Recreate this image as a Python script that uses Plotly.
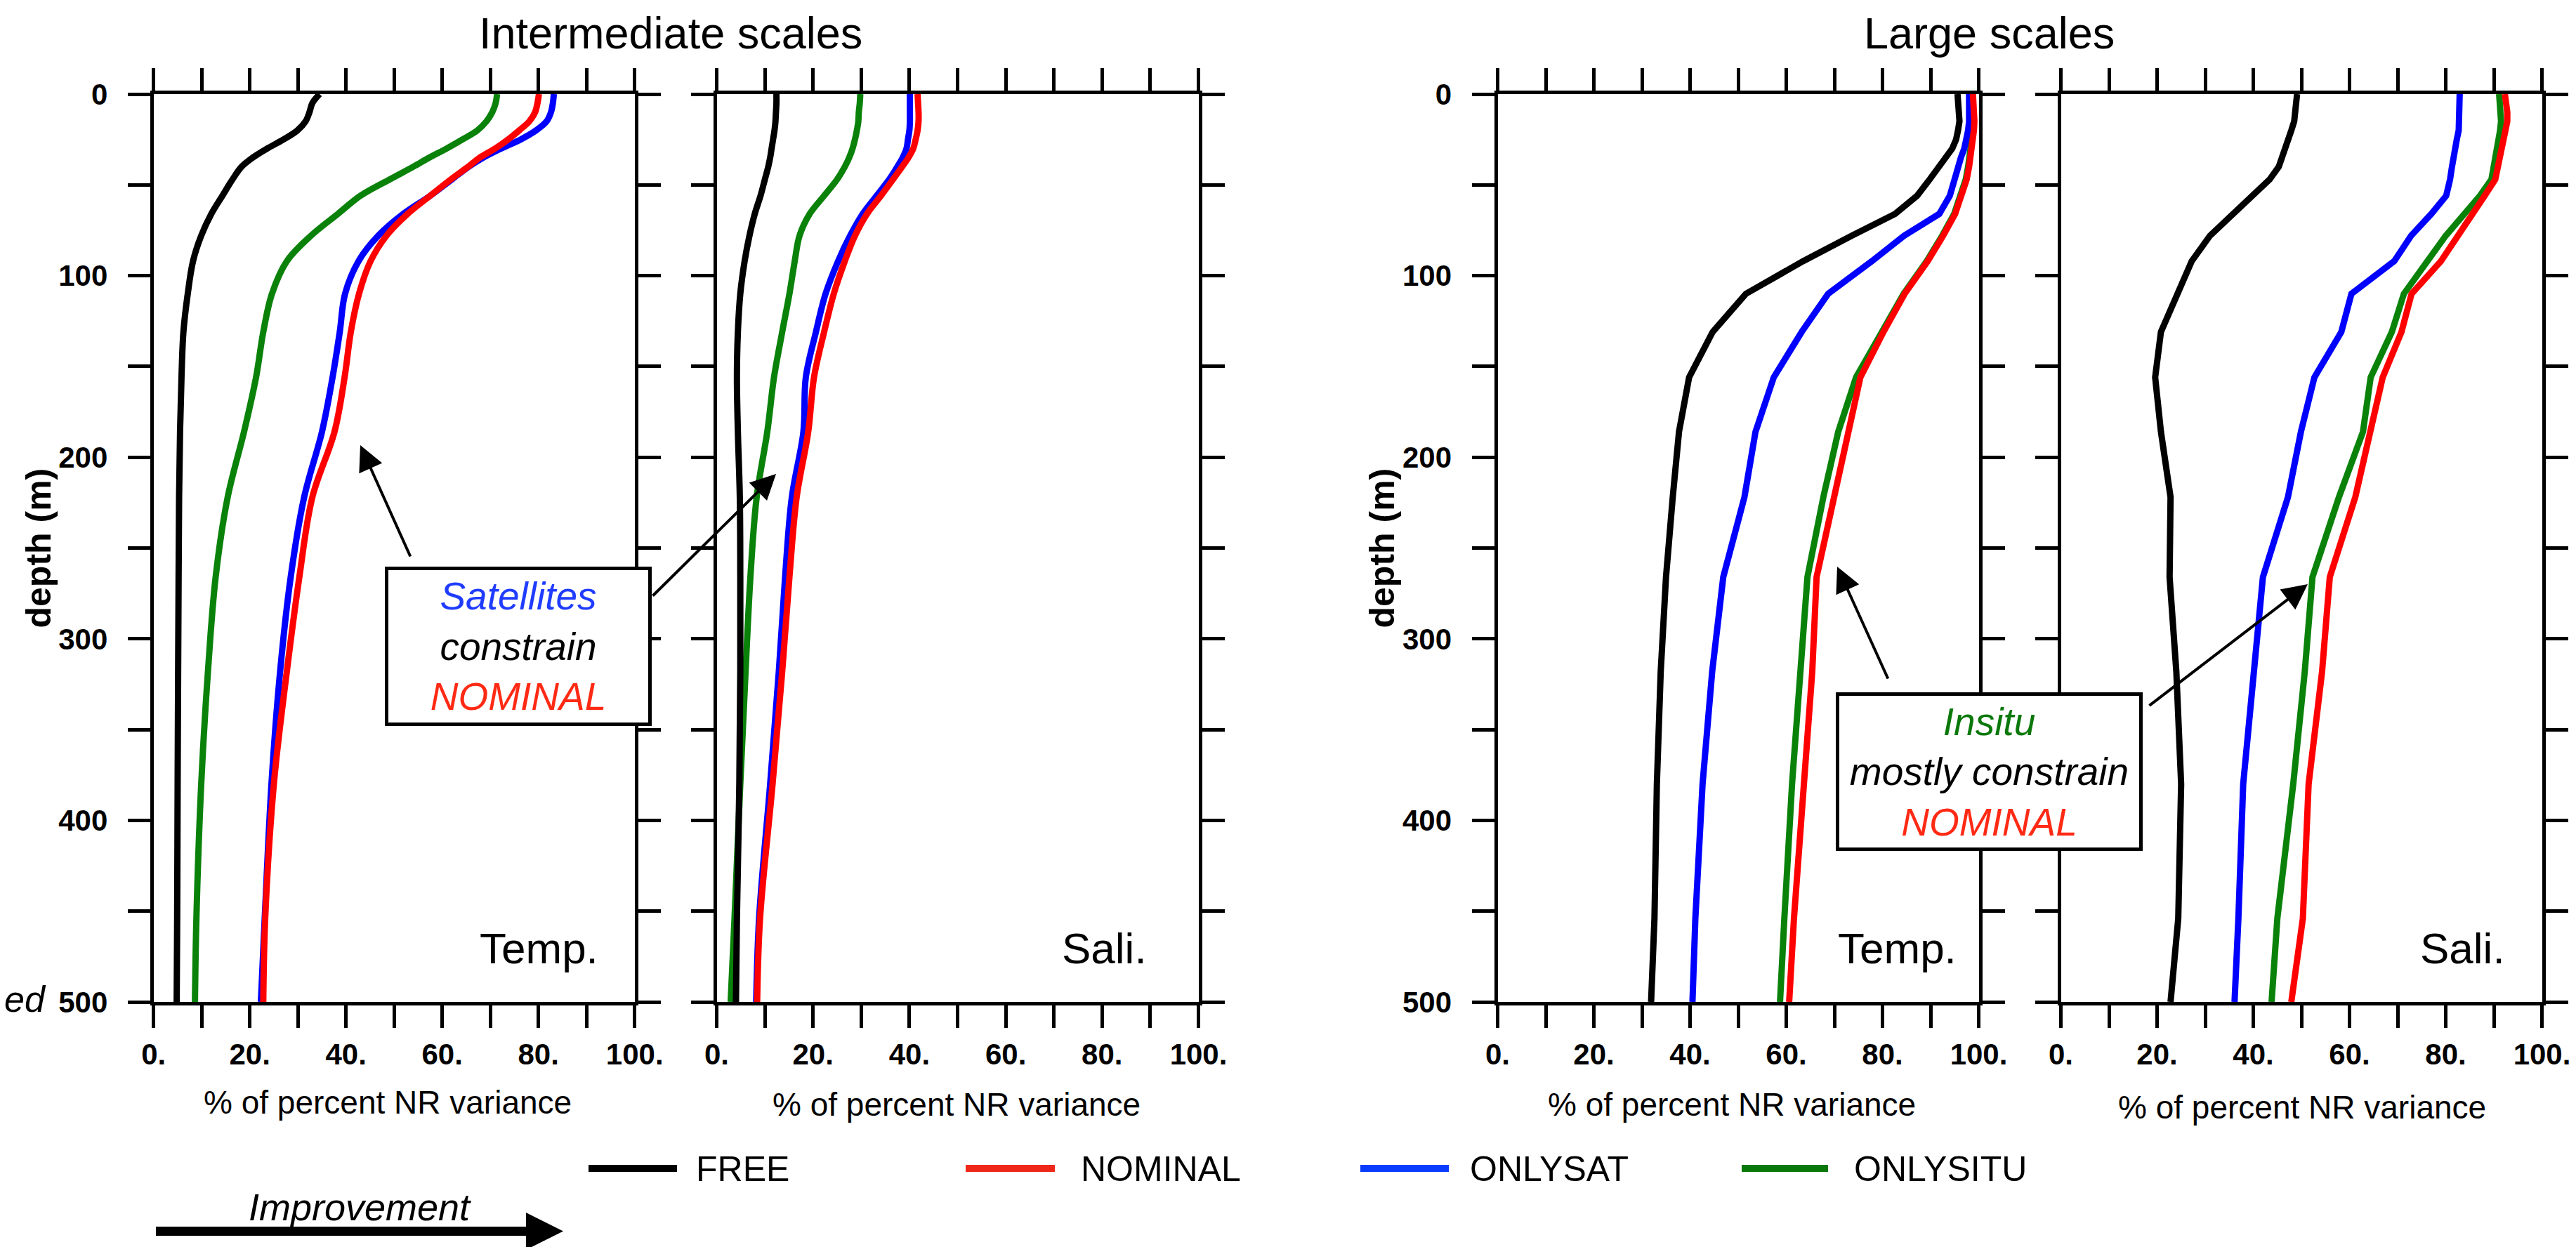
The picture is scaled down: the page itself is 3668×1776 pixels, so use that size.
import plotly.graph_objects as go

W, H = 3668, 1776

# ---------------- data ----------------
DEPTH = [0, 5, 10, 15, 20, 25, 30, 35, 40, 47, 56, 66, 78, 92, 110, 131, 156, 186, 222, 266, 318, 380, 454, 500]

EXPERIMENTS = ["FREE", "NOMINAL", "ONLYSAT", "ONLYSITU"]
COLORS = {"FREE": "#000000", "NOMINAL": "#ff0000", "ONLYSAT": "#0000ff", "ONLYSITU": "#0a820a"}
LEGEND_COLORS = {"FREE": "#000000", "NOMINAL": "#f0281a", "ONLYSAT": "#0a3cff", "ONLYSITU": "#0a780a"}

# Intermediate scales - Temperature
INT_TEMP_FREE = [34.5, 33.0, 32.4, 31.6, 29.9, 27.0, 23.6, 20.6, 18.3, 16.4, 14.3, 12.0, 9.9, 8.2, 7.1, 6.2, 5.8, 5.5, 5.3, 5.2, 5.1, 5.0, 4.9, 4.8]
INT_TEMP_NOMINAL = [80.1, 79.8, 79.3, 78.1, 76.0, 73.7, 71.0, 67.8, 65.4, 61.8, 57.5, 52.8, 48.4, 45.1, 42.7, 41.0, 39.7, 37.6, 33.0, 30.3, 27.7, 25.0, 23.2, 22.8]
INT_TEMP_ONLYSAT = [83.2, 83.0, 82.6, 81.7, 79.5, 76.3, 72.2, 68.5, 65.5, 62.0, 57.5, 51.9, 46.7, 42.6, 39.8, 38.7, 37.2, 35.0, 31.3, 28.5, 26.3, 24.5, 23.1, 22.3]
INT_TEMP_ONLYSITU = [71.4, 71.1, 70.4, 69.2, 67.3, 64.2, 60.9, 57.3, 54.0, 49.1, 43.0, 38.3, 32.7, 27.7, 24.6, 22.8, 21.3, 18.8, 15.4, 12.9, 11.3, 9.9, 8.9, 8.6]

# Intermediate scales - Salinity
INT_SALI_FREE = [12.4, 12.4, 12.3, 12.2, 12.0, 11.7, 11.4, 11.1, 10.7, 10.0, 9.1, 7.9, 6.8, 5.8, 4.9, 4.4, 4.2, 4.4, 4.8, 4.9, 4.9, 4.7, 4.2, 4.0]
INT_SALI_NOMINAL = [41.7, 41.8, 41.9, 41.9, 41.7, 41.3, 40.8, 39.8, 38.5, 36.6, 34.1, 31.2, 28.7, 26.6, 24.3, 22.3, 20.2, 19.0, 16.6, 15.1, 13.6, 11.6, 9.0, 8.4]
INT_SALI_ONLYSAT = [40.1, 40.1, 40.1, 40.1, 40.0, 39.7, 39.4, 38.6, 37.5, 35.8, 33.2, 30.3, 27.7, 25.2, 22.6, 20.6, 18.5, 18.0, 15.6, 14.2, 12.9, 11.1, 8.8, 8.2]
INT_SALI_ONLYSITU = [29.8, 29.7, 29.5, 29.4, 29.1, 28.7, 28.2, 27.5, 26.6, 25.0, 22.3, 19.3, 17.2, 16.2, 15.1, 13.6, 11.9, 10.5, 8.3, 7.0, 6.0, 4.9, 3.7, 2.9]

# Large scales - Temperature
LRG_TEMP_FREE = [95.6, 95.8, 96.0, 96.0, 95.7, 95.3, 94.5, 93.2, 91.8, 89.8, 87.2, 82.6, 73.6, 63.5, 51.6, 44.7, 39.8, 37.7, 36.4, 35.0, 33.9, 33.1, 32.6, 31.9]
LRG_TEMP_NOMINAL = [98.8, 99.0, 99.2, 99.1, 99.0, 98.8, 98.6, 98.3, 98.0, 97.5, 96.4, 95.1, 92.6, 89.4, 84.6, 80.2, 75.4, 72.9, 69.9, 66.3, 65.4, 63.6, 61.6, 60.6]
LRG_TEMP_ONLYSAT = [98.0, 98.1, 98.2, 98.0, 97.8, 97.5, 97.0, 96.3, 95.7, 95.0, 94.0, 91.8, 84.5, 77.8, 68.7, 63.2, 57.4, 53.6, 51.3, 46.9, 44.6, 42.6, 41.1, 40.5]
LRG_TEMP_ONLYSITU = [98.6, 98.8, 99.0, 98.9, 98.8, 98.6, 98.4, 98.1, 97.8, 97.3, 96.2, 94.9, 92.4, 89.2, 84.4, 79.8, 74.5, 70.8, 67.7, 64.4, 62.9, 61.2, 59.6, 58.7]

# Large scales - Salinity
LRG_SALI_FREE = [49.1, 49.0, 48.8, 48.5, 47.9, 47.3, 46.6, 46.0, 45.3, 43.4, 39.8, 35.5, 31.0, 27.2, 24.2, 20.8, 19.6, 20.8, 22.8, 22.6, 24.0, 25.0, 24.4, 22.8]
LRG_SALI_NOMINAL = [92.3, 92.6, 92.8, 92.8, 92.4, 92.0, 91.6, 91.2, 90.9, 90.3, 88.1, 85.6, 82.5, 79.0, 72.9, 70.8, 66.9, 64.4, 61.2, 55.9, 54.3, 51.5, 50.3, 47.9]
LRG_SALI_ONLYSAT = [82.9, 82.9, 82.9, 82.9, 82.7, 82.3, 81.9, 81.5, 81.3, 80.9, 80.1, 77.0, 72.8, 69.3, 60.4, 58.3, 52.7, 49.9, 47.2, 42.0, 40.2, 37.9, 36.9, 36.1]
LRG_SALI_ONLYSITU = [91.1, 91.3, 91.5, 91.5, 91.3, 91.0, 90.7, 90.3, 90.0, 89.5, 87.1, 84.0, 80.0, 76.2, 71.3, 68.8, 64.4, 62.8, 57.8, 52.3, 50.7, 48.3, 45.0, 43.8]

X_TICKS = [0, 10, 20, 30, 40, 50, 60, 70, 80, 90, 100]
X_TICKTEXT = ["0.", "", "20.", "", "40.", "", "60.", "", "80.", "", "100."]
Y_TICKS = [0, 50, 100, 150, 200, 250, 300, 350, 400, 450, 500]
Y_TICKTEXT = ["0", "", "100", "", "200", "", "300", "", "400", "", "500"]

PANELS = [
    {"data": {"FREE": INT_TEMP_FREE, "NOMINAL": INT_TEMP_NOMINAL, "ONLYSAT": INT_TEMP_ONLYSAT, "ONLYSITU": INT_TEMP_ONLYSITU},
     "label": "Temp.", "smooth": True},
    {"data": {"FREE": INT_SALI_FREE, "NOMINAL": INT_SALI_NOMINAL, "ONLYSAT": INT_SALI_ONLYSAT, "ONLYSITU": INT_SALI_ONLYSITU},
     "label": "Sali.", "smooth": True},
    {"data": {"FREE": LRG_TEMP_FREE, "NOMINAL": LRG_TEMP_NOMINAL, "ONLYSAT": LRG_TEMP_ONLYSAT, "ONLYSITU": LRG_TEMP_ONLYSITU},
     "label": "Temp.", "smooth": False},
    {"data": {"FREE": LRG_SALI_FREE, "NOMINAL": LRG_SALI_NOMINAL, "ONLYSAT": LRG_SALI_ONLYSAT, "ONLYSITU": LRG_SALI_ONLYSITU},
     "label": "Sali.", "smooth": False},
]

# ---------------- layout geometry (pixels) ----------------
PANEL_X = [(218.7, 903.7), (1020.5, 1706.5), (2132.5, 2817.5), (2934.5, 3619.5)]
PANEL_Y = (134, 1427)


def px(x):
    return x / W


def py(y):
    return 1 - y / H


fig = go.Figure()

draw_order = ["ONLYSITU", "ONLYSAT", "NOMINAL", "FREE"]
for i, panel in enumerate(PANELS):
    k = "" if i == 0 else str(i + 1)
    for name in draw_order:
        fig.add_trace(go.Scatter(
            x=panel["data"][name], y=DEPTH, mode="lines", name=name,
            line=dict(color=COLORS[name], width=9,
                      shape="spline" if panel["smooth"] else "linear",
                      smoothing=1.0 if panel["smooth"] else None),
            xaxis="x" + k, yaxis="y" + k, showlegend=False, hoverinfo="skip",
        ))

tickfont = dict(family="Liberation Sans", size=42, color="black", weight="bold")
for i in range(4):
    k = "" if i == 0 else str(i + 1)
    x0, x1 = PANEL_X[i]
    fig.layout["xaxis" + k] = dict(
        domain=[px(x0), px(x1)], anchor="y" + k, range=[0, 100],
        tickmode="array", tickvals=X_TICKS, ticktext=X_TICKTEXT,
        ticks="outside", ticklen=32, tickwidth=5, tickcolor="black",
        showline=True, linewidth=5, linecolor="black", mirror="allticks",
        showgrid=False, zeroline=False, tickfont=tickfont, fixedrange=True,
        ticklabelstandoff=2, automargin=False,
    )
    fig.layout["yaxis" + k] = dict(
        domain=[py(PANEL_Y[1]), py(PANEL_Y[0])], anchor="x" + k, range=[500, 0],
        tickmode="array", tickvals=Y_TICKS, ticktext=Y_TICKTEXT,
        showticklabels=(i in (0, 2)),
        ticks="outside", ticklen=32, tickwidth=5, tickcolor="black",
        showline=True, linewidth=5, linecolor="black", mirror="allticks",
        showgrid=False, zeroline=False, tickfont=tickfont, fixedrange=True,
        ticklabelstandoff=20, automargin=False,
    )

annotations = []


def ann(text, x, y, size, color="black", family="Liberation Sans", xanchor="center",
        yanchor="middle", **kw):
    d = dict(text=text, x=px(x), y=py(y), xref="paper", yref="paper", showarrow=False,
             font=dict(size=size, family=family, color=color), xanchor=xanchor,
             yanchor=yanchor)
    d.update(kw)
    return d


# titles
annotations.append(ann("Intermediate scales", 955.5, 47, 63))
annotations.append(ann("Large scales", 2832.5, 47, 63))

# panel labels
for (lx, lbl) in [(767, "Temp."), (1572.5, "Sali."), (2701, "Temp."), (3506, "Sali.")]:
    annotations.append(ann(lbl, lx, 1350, 62))

# x titles
for (tx, ty) in [(552, 1570), (1362, 1573), (2466, 1573), (3278, 1577)]:
    annotations.append(ann("% of percent NR variance", tx, ty, 46))

# y titles
for tx in [54.5, 1967.5]:
    annotations.append(ann("<b>depth (m)</b>", tx, 781, 50, textangle=-90))

# legend
LEGEND_LINE_X = [(838, 964), (1375, 1502), (1937, 2063), (2480, 2603)]
LEGEND_TEXT_X = [989, 1537, 2091, 2638]
LEGEND_Y = 1664
shapes = []
for name, (lx0, lx1), tx in zip(EXPERIMENTS, LEGEND_LINE_X, LEGEND_TEXT_X):
    shapes.append(dict(type="line", xref="paper", yref="paper", x0=px(lx0), x1=px(lx1),
                       y0=py(LEGEND_Y), y1=py(LEGEND_Y),
                       line=dict(color=LEGEND_COLORS[name], width=10)))
    annotations.append(ann(name, tx, LEGEND_Y + 1, 50, xanchor="left"))

# boxes with explanatory text
box1 = ("<i><span style='color:#1f3cff'>Satellites</span><br>constrain<br>"
        "<span style='color:#ff2a14'>NOMINAL</span></i>")
annotations.append(ann(box1, 738, 920.5, 55, bgcolor="white", bordercolor="black",
                       borderwidth=5, borderpad=0, width=370, height=217))
box2 = ("<i><span style='color:#0a780a'>Insitu</span><br>mostly constrain<br>"
        "<span style='color:#ff2a14'>NOMINAL</span></i>")
annotations.append(ann(box2, 2832.5, 1099, 55, bgcolor="white", bordercolor="black",
                       borderwidth=5, borderpad=0, width=427, height=216))

# pointer arrows (tip position, tail offset in pixels)
for (tipx, tipy, axp, ayp) in [(513, 634, 72, 160), (1105, 675, -177, 175),
                               (2616, 807, 73, 161), (3286, 832, -227, 174)]:
    annotations.append(dict(text="", x=px(tipx), y=py(tipy), xref="paper", yref="paper",
                            showarrow=True, ax=axp, ay=ayp, axref="pixel", ayref="pixel",
                            arrowhead=2, arrowsize=1.8, arrowwidth=4, arrowcolor="black"))

# improvement arrow
annotations.append(ann("<i>Improvement</i>", 512, 1719, 54))
pts = [(222, 1747), (749, 1747), (749, 1727), (802, 1753.5), (749, 1780), (749, 1760), (222, 1760)]
path = "M" + " L".join(f"{px(a):.5f},{py(b):.5f}" for a, b in pts) + " Z"
shapes.append(dict(type="path", xref="paper", yref="paper", path=path,
                   fillcolor="black", line=dict(color="black", width=0)))

# partial word at left edge
annotations.append(ann("<i>ed</i>", 4, 1423, 52, xanchor="left"))

fig.update_layout(
    template="none",
    width=W, height=H, margin=dict(l=0, r=0, t=0, b=0, autoexpand=False),
    paper_bgcolor="white", plot_bgcolor="white",
    annotations=annotations, shapes=shapes, showlegend=False,
    font=dict(family="Liberation Sans", color="black"),
)

fig.write_html("out.html")
